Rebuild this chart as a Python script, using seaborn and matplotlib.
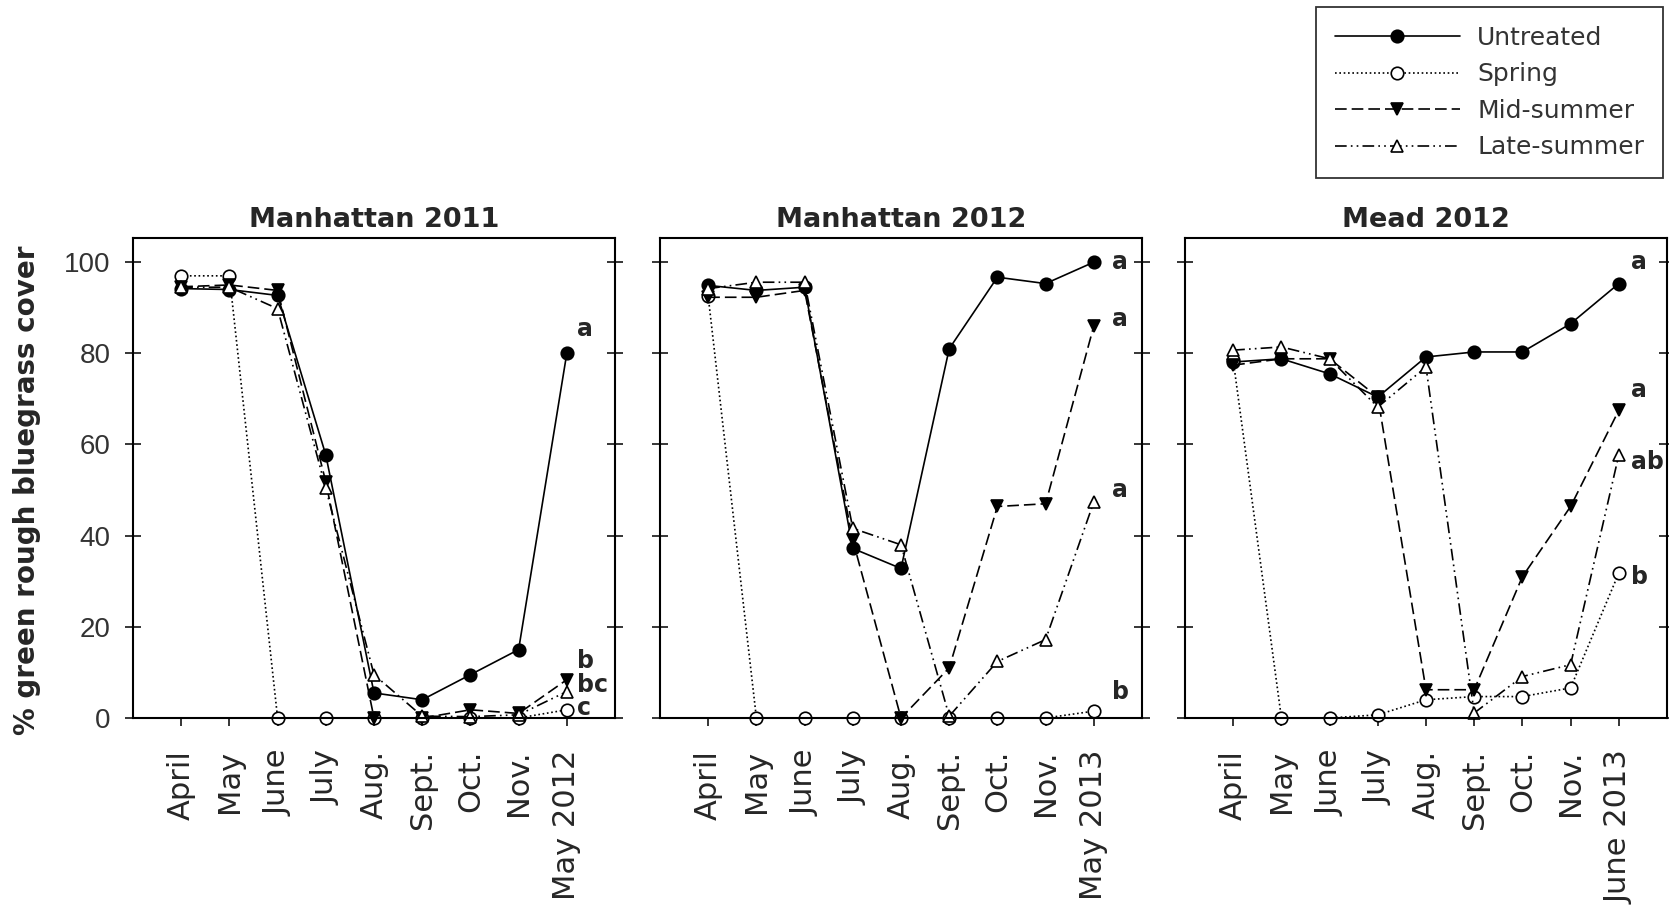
import matplotlib.pyplot as plt
import pandas as pd
import seaborn as sns

# x categories
months = ["April", "May", "June", "July", "Aug.", "Sept.", "Oct.", "Nov."]
last_month = ["May 2012", "May 2013", "June 2013"]
sites = ["Manhattan 2011", "Manhattan 2012", "Mead 2012"]
treatments = ["Untreated", "Spring", "Mid-summer", "Late-summer"]

# % green rough bluegrass cover
man11_untreated = [94.2, 94.0, 92.7, 57.7, 5.5, 4.0, 9.5, 15.0, 80.0]
man11_spring = [97.0, 97.0, 0.0, 0.0, 0.0, 0.0, 0.0, 0.0, 1.8]
man11_mid = [94.6, 95.0, 93.8, 51.8, 0.0, 0.0, 1.8, 1.0, 8.4]
man11_late = [94.5, 94.5, 89.8, 50.4, 9.5, 0.4, 0.3, 0.7, 5.8]

man12_untreated = [94.9, 93.8, 94.5, 37.2, 32.8, 81.0, 96.7, 95.3, 100.0]
man12_spring = [92.5, 0.0, 0.0, 0.0, 0.0, 0.0, 0.0, 0.0, 1.5]
man12_mid = [92.3, 92.3, 93.8, 39.0, 0.0, 11.0, 46.4, 47.0, 86.0]
man12_late = [94.2, 95.6, 95.6, 41.6, 38.0, 0.4, 12.4, 17.2, 47.4]

mead12_untreated = [78.1, 78.8, 75.5, 70.4, 79.2, 80.3, 80.3, 86.5, 95.3]
mead12_spring = [78.5, 0.0, 0.0, 0.7, 4.0, 4.7, 4.7, 6.6, 31.8]
mead12_mid = [77.4, 78.8, 78.8, 70.4, 6.2, 6.2, 31.0, 46.4, 67.5]
mead12_late = [80.7, 81.4, 78.8, 68.2, 77.0, 1.1, 9.1, 11.7, 57.7]

# significance letters at the last date, with label heights
man11_letters = ["a", "b", "bc", "c"]
man11_letter_y = [85.3, 12.4, 7.3, 2.2]
man12_letters = ["a", "a", "a", "b"]
man12_letter_y = [100.0, 87.6, 50.0, 5.8]
mead12_letters = ["a", "a", "ab", "b"]
mead12_letter_y = [100.0, 71.9, 56.2, 31.0]

cover = {
    "Manhattan 2011": [man11_untreated, man11_spring, man11_mid, man11_late],
    "Manhattan 2012": [man12_untreated, man12_spring, man12_mid, man12_late],
    "Mead 2012": [mead12_untreated, mead12_spring, mead12_mid, mead12_late],
}
letters = {
    "Manhattan 2011": (man11_letters, man11_letter_y, 0.22),
    "Manhattan 2012": (man12_letters, man12_letter_y, 0.38),
    "Mead 2012": (mead12_letters, mead12_letter_y, 0.25),
}

rows = []
for site in sites:
    for trt, vals in zip(treatments, cover[site]):
        for i, v in enumerate(vals):
            rows.append({"site": site, "treatment": trt, "idx": i, "cover": v})
df = pd.DataFrame(rows)

styles = {
    "Untreated": dict(marker="o", markerfacecolor="black", linestyle="-"),
    "Spring": dict(marker="o", markerfacecolor="white", linestyle=(0, (1, 1.6))),
    "Mid-summer": dict(marker="v", markerfacecolor="black", linestyle=(0, (7, 3))),
    "Late-summer": dict(marker="^", markerfacecolor="white",
                        linestyle=(0, (7, 2.5, 1, 2.5, 1, 2.5))),
}

sns.set_style("ticks")
plt.rcParams["font.family"] = ["DejaVu Sans"]

fig = plt.figure(figsize=(16.69, 9.11), dpi=100)
lefts = [133, 660, 1185]
axes = [fig.add_axes([l / 1669, (911 - 718) / 911, 482 / 1669, 480 / 911]) for l in lefts]

for k, (ax, site) in enumerate(zip(axes, sites)):
    sub = df[df["site"] == site]
    for trt in treatments:
        d = sub[sub["treatment"] == trt]
        sns.lineplot(data=d, x="idx", y="cover", ax=ax, color="black",
                     linewidth=1.2, markersize=9, markeredgecolor="black",
                     markeredgewidth=1.2, clip_on=False, legend=False,
                     label=trt, **styles[trt])

    ax.set_xlim(-1, 9)
    ax.set_ylim(0, 105.3)
    ax.set_xticks(range(9))
    ax.set_xticklabels(months + [last_month[k]], rotation=90, fontsize=22,
                       va="top", ha="center")
    ax.set_yticks(range(0, 101, 20))
    ax.tick_params(axis="y", direction="inout", length=12, width=1.3,
                   left=True, right=True, labelleft=(k == 0), pad=10,
                   labelsize=20)
    ax.tick_params(axis="x", direction="out", length=6, width=1.3, pad=17)
    for lab in ax.get_yticklabels():
        lab.set_family("Liberation Sans")
        lab.set_color("#333333")
    for sp in ax.spines.values():
        sp.set_linewidth(1.5)
        sp.set_color("black")
    ax.set_xlabel("")
    ax.set_ylabel("")
    ax.set_title(site, fontsize=19.5, fontweight="bold", pad=8)

    labs, ys, dx = letters[site]
    for lab, y in zip(labs, ys):
        ax.text(8 + dx, y, lab, fontsize=17, fontweight="bold",
                ha="left", va="center")

axes[0].set_ylabel("% green rough bluegrass cover", fontsize=20, fontweight="bold")
axes[0].yaxis.set_label_coords(-0.19, 0.475)

handles, labels = axes[0].get_legend_handles_labels()
leg = fig.legend(handles, labels, loc="upper right",
                 bbox_to_anchor=(1663 / 1669, 1 - 7 / 911), borderaxespad=0,
                 fontsize=18, frameon=True, fancybox=False, handlelength=5.0,
                 handletextpad=0.7, labelspacing=0.5, borderpad=0.75)
leg.get_frame().set_edgecolor("black")
leg.get_frame().set_linewidth(1.3)
for t in leg.get_texts():
    t.set_color("#333333")

fig.savefig("out.png", dpi=100)
